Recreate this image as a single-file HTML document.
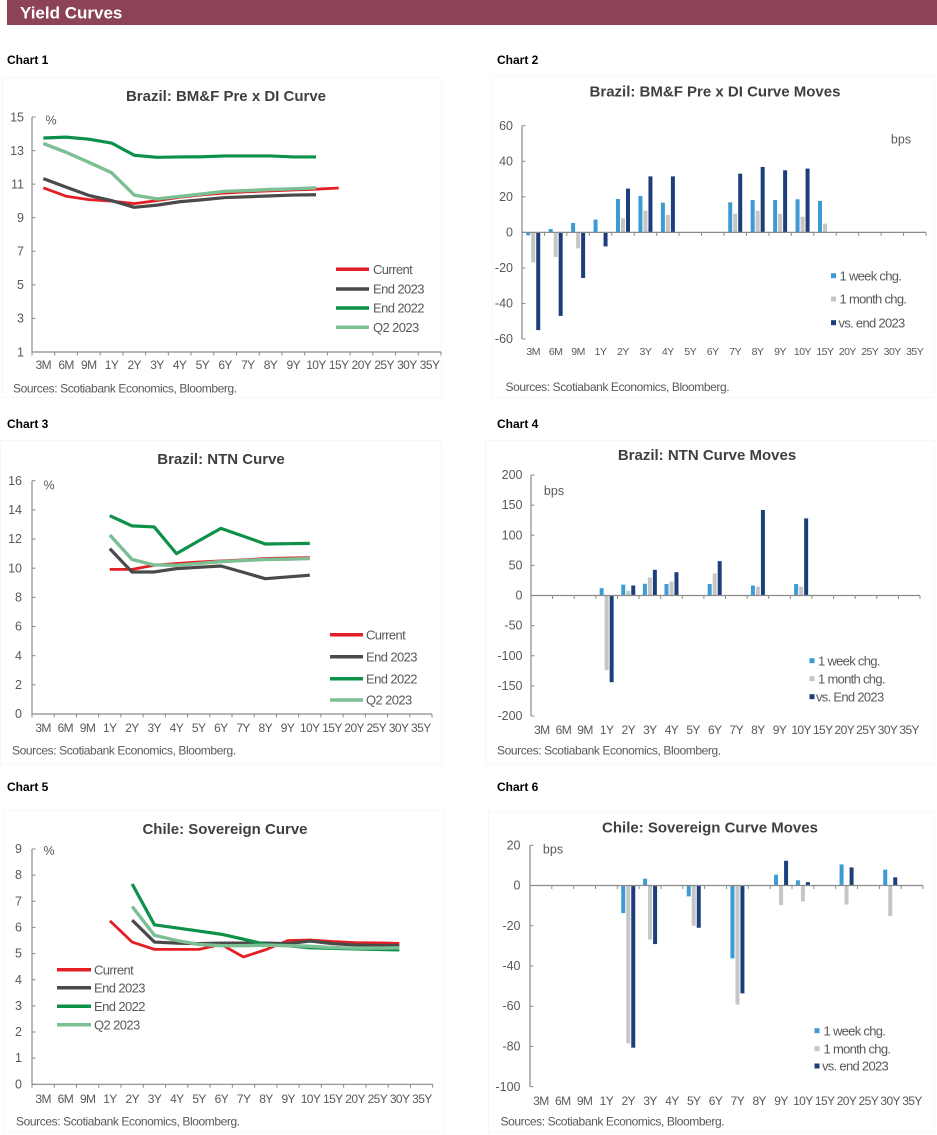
<!DOCTYPE html>
<html><head><meta charset="utf-8">
<style>
html,body{margin:0;padding:0;background:#fff;}
body{width:937px;height:1135px;position:relative;overflow:hidden;font-family:"Liberation Sans",Arial,sans-serif;}
svg{position:absolute;left:0;top:0;}
.xl{position:absolute;display:flex;height:14px;line-height:14px;font-size:12px;letter-spacing:-0.6px;color:#595959;}
.xl span{flex:1;text-align:center;white-space:nowrap;}
.xs{font-size:10.5px;letter-spacing:-0.5px;}
</style></head><body>
<svg id="g" width="937" height="1135" xmlns="http://www.w3.org/2000/svg" font-family="Liberation Sans, Arial, sans-serif">
<!-- panels -->
<rect x="2.5" y="77.5" width="439" height="320" fill="none" stroke="#f7f7f7"/>
<rect x="492.5" y="76.5" width="442" height="321" fill="none" stroke="#f7f7f7"/>
<rect x="0.5" y="440.5" width="441" height="324" fill="none" stroke="#f7f7f7"/>
<rect x="485.5" y="440.5" width="449" height="324" fill="none" stroke="#f7f7f7"/>
<rect x="3.5" y="810.5" width="441" height="322" fill="none" stroke="#f7f7f7"/>
<rect x="488.5" y="811.5" width="446" height="321" fill="none" stroke="#f7f7f7"/>

<!-- header -->
<rect x="7" y="0" width="930" height="25" fill="#8c4358"/>
<text x="20" y="18.5" fill="#ffffff" font-size="17" font-weight="bold">Yield Curves</text>

<!-- chart labels -->
<g font-size="12" font-weight="bold" fill="#000">
<text x="7" y="64">Chart 1</text>
<text x="497" y="64">Chart 2</text>
<text x="7" y="428">Chart 3</text>
<text x="497" y="428">Chart 4</text>
<text x="7" y="791">Chart 5</text>
<text x="497" y="791">Chart 6</text>
</g>

<!-- titles -->
<g font-size="15" font-weight="bold" fill="#404040" text-anchor="middle">
<text x="226" y="101">Brazil: BM&amp;F Pre x DI Curve</text>
<text x="715" y="96.5">Brazil: BM&amp;F Pre x DI Curve Moves</text>
<text x="221" y="464">Brazil: NTN Curve</text>
<text x="707" y="460">Brazil: NTN Curve Moves</text>
<text x="225" y="834">Chile: Sovereign Curve</text>
<text x="710" y="832.5">Chile: Sovereign Curve Moves</text>
</g>

<!-- y labels -->
<g font-size="12.5" fill="#595959" text-anchor="end">
<text x="24" y="121.5">15</text><text x="24" y="155">13</text><text x="24" y="188.5">11</text><text x="24" y="222">9</text><text x="24" y="255.5">7</text><text x="24" y="289">5</text><text x="24" y="322.5">3</text><text x="24" y="356.5">1</text>

<text x="513" y="130">60</text><text x="513" y="165.5">40</text><text x="513" y="201">20</text><text x="513" y="236.5">0</text><text x="513" y="272">-20</text><text x="513" y="307.5">-40</text><text x="513" y="343">-60</text>

<text x="22" y="485">16</text><text x="22" y="514">14</text><text x="22" y="543">12</text><text x="22" y="572.5">10</text><text x="22" y="601.5">8</text><text x="22" y="630.5">6</text><text x="22" y="660">4</text><text x="22" y="689">2</text><text x="22" y="718">0</text>

<text x="522.5" y="479">200</text><text x="522.5" y="509">150</text><text x="522.5" y="539.5">100</text><text x="522.5" y="569.5">50</text><text x="522.5" y="599.5">0</text><text x="522.5" y="629.5">-50</text><text x="522.5" y="660">-100</text><text x="522.5" y="690">-150</text><text x="522.5" y="720">-200</text>

<text x="22" y="853">9</text><text x="22" y="879">8</text><text x="22" y="905.5">7</text><text x="22" y="931.5">6</text><text x="22" y="957.5">5</text><text x="22" y="984">4</text><text x="22" y="1010">3</text><text x="22" y="1036">2</text><text x="22" y="1062">1</text><text x="22" y="1088.5">0</text>

<text x="520.5" y="849.5">20</text><text x="520.5" y="889.5">0</text><text x="520.5" y="930">-20</text><text x="520.5" y="970">-40</text><text x="520.5" y="1010">-60</text><text x="520.5" y="1050.5">-80</text><text x="520.5" y="1091">-100</text>
</g>

<!-- units -->
<g font-size="12.5" fill="#595959" text-anchor="middle">
<text x="51" y="124.5">%</text>
<text x="49" y="489.5">%</text>
<text x="49" y="855">%</text>
<text x="901" y="143.5">bps</text>
<text x="554" y="495">bps</text>
<text x="553" y="853.5">bps</text>
</g>

<!-- sources -->
<g font-size="12" fill="#595959" letter-spacing="-0.4">
<text x="13" y="392.5">Sources: Scotiabank Economics, Bloomberg.</text>
<text x="505.5" y="391">Sources: Scotiabank Economics, Bloomberg.</text>
<text x="12" y="754.5">Sources: Scotiabank Economics, Bloomberg.</text>
<text x="497" y="754.5">Sources: Scotiabank Economics, Bloomberg.</text>
<text x="16" y="1125.5">Sources: Scotiabank Economics, Bloomberg.</text>
<text x="500.5" y="1125.5">Sources: Scotiabank Economics, Bloomberg.</text>
</g>

<!-- line legends -->
<g stroke-width="3.5">
<line x1="336" x2="369" y1="269.3" y2="269.3" stroke="#e31f26"/>
<line x1="336" x2="369" y1="289" y2="289" stroke="#4a4a4a"/>
<line x1="336" x2="369" y1="308" y2="308" stroke="#0d9048"/>
<line x1="336" x2="369" y1="327.3" y2="327.3" stroke="#7dbf94"/>
<line x1="330" x2="363" y1="634.7" y2="634.7" stroke="#e31f26"/>
<line x1="330" x2="363" y1="656.7" y2="656.7" stroke="#4a4a4a"/>
<line x1="330" x2="363" y1="678.7" y2="678.7" stroke="#0d9048"/>
<line x1="330" x2="363" y1="700" y2="700" stroke="#7dbf94"/>
<line x1="57" x2="91" y1="969.7" y2="969.7" stroke="#e31f26"/>
<line x1="57" x2="91" y1="987.7" y2="987.7" stroke="#4a4a4a"/>
<line x1="57" x2="91" y1="1006.3" y2="1006.3" stroke="#0d9048"/>
<line x1="57" x2="91" y1="1024.7" y2="1024.7" stroke="#7dbf94"/>
</g>
<g font-size="13" fill="#595959" letter-spacing="-0.6">
<text x="373" y="274">Current</text>
<text x="373" y="293.5">End 2023</text>
<text x="373" y="312.5">End 2022</text>
<text x="373" y="332">Q2 2023</text>
<text x="366" y="639.5">Current</text>
<text x="366" y="661.5">End 2023</text>
<text x="366" y="683.5">End 2022</text>
<text x="366" y="704.5">Q2 2023</text>
<text x="94" y="974.5">Current</text>
<text x="94" y="992.5">End 2023</text>
<text x="94" y="1011">End 2022</text>
<text x="94" y="1029.5">Q2 2023</text>
</g>

<!-- bar legends -->
<rect x="831" y="273.2" width="5" height="5" fill="#3d9bd3"/>
<rect x="831" y="296.5" width="5" height="5" fill="#c6c6c6"/>
<rect x="831" y="320.2" width="5" height="5" fill="#1c3f7c"/>
<rect x="809.5" y="658.2" width="5" height="5" fill="#3d9bd3"/>
<rect x="809.5" y="676.2" width="5" height="5" fill="#c6c6c6"/>
<rect x="809.5" y="694.2" width="5" height="5" fill="#1c3f7c"/>
<rect x="814.5" y="1028.2" width="5" height="5" fill="#3d9bd3"/>
<rect x="814.5" y="1046.2" width="5" height="5" fill="#c6c6c6"/>
<rect x="814.5" y="1063.5" width="5" height="5" fill="#1c3f7c"/>
<g font-size="13" fill="#595959" letter-spacing="-0.7">
<text x="839.5" y="280.3">1 week chg.</text>
<text x="839.5" y="303.6">1 month chg.</text>
<text x="838.5" y="327.3">vs. end 2023</text>
<text x="818" y="665.3">1 week chg.</text>
<text x="818" y="683.3">1 month chg.</text>
<text x="816" y="701.3">vs. End 2023</text>
<text x="823.5" y="1035.3">1 week chg.</text>
<text x="823.5" y="1053.3">1 month chg.</text>
<text x="822" y="1070.6">vs. end 2023</text>
</g>
</svg>

<!-- x labels -->
<div class="xl" style="left:32px;width:409px;top:358px;"><span>3M</span><span>6M</span><span>9M</span><span>1Y</span><span>2Y</span><span>3Y</span><span>4Y</span><span>5Y</span><span>6Y</span><span>7Y</span><span>8Y</span><span>9Y</span><span>10Y</span><span>15Y</span><span>20Y</span><span>25Y</span><span>30Y</span><span>35Y</span></div>
<div class="xl xs" style="left:522px;width:404px;top:345px;"><span>3M</span><span>6M</span><span>9M</span><span>1Y</span><span>2Y</span><span>3Y</span><span>4Y</span><span>5Y</span><span>6Y</span><span>7Y</span><span>8Y</span><span>9Y</span><span>10Y</span><span>15Y</span><span>20Y</span><span>25Y</span><span>30Y</span><span>35Y</span></div>
<div class="xl" style="left:32px;width:400px;top:721px;"><span>3M</span><span>6M</span><span>9M</span><span>1Y</span><span>2Y</span><span>3Y</span><span>4Y</span><span>5Y</span><span>6Y</span><span>7Y</span><span>8Y</span><span>9Y</span><span>10Y</span><span>15Y</span><span>20Y</span><span>25Y</span><span>30Y</span><span>35Y</span></div>
<div class="xl" style="left:531px;width:389px;top:723px;"><span>3M</span><span>6M</span><span>9M</span><span>1Y</span><span>2Y</span><span>3Y</span><span>4Y</span><span>5Y</span><span>6Y</span><span>7Y</span><span>8Y</span><span>9Y</span><span>10Y</span><span>15Y</span><span>20Y</span><span>25Y</span><span>30Y</span><span>35Y</span></div>
<div class="xl" style="left:32px;width:401px;top:1092px;"><span>3M</span><span>6M</span><span>9M</span><span>1Y</span><span>2Y</span><span>3Y</span><span>4Y</span><span>5Y</span><span>6Y</span><span>7Y</span><span>8Y</span><span>9Y</span><span>10Y</span><span>15Y</span><span>20Y</span><span>25Y</span><span>30Y</span><span>35Y</span></div>
<div class="xl" style="left:530px;width:393px;top:1094px;"><span>3M</span><span>6M</span><span>9M</span><span>1Y</span><span>2Y</span><span>3Y</span><span>4Y</span><span>5Y</span><span>6Y</span><span>7Y</span><span>8Y</span><span>9Y</span><span>10Y</span><span>15Y</span><span>20Y</span><span>25Y</span><span>30Y</span><span>35Y</span></div>

<script>
(function(){
var NS='http://www.w3.org/2000/svg';
var svg=document.getElementById('g');
function el(tag,a){var e=document.createElementNS(NS,tag);for(var k in a)e.setAttribute(k,a[k]);svg.appendChild(e);return e;}
var N=null;
var AX='#8a8a8a';
function chart(c){
  var w=(c.x1-c.x0)/18;
  var Y=function(v){return c.yTop+(c.vMax-v)*(c.yBot-c.yTop)/(c.vMax-c.vMin);};
  var X=function(i){return c.x0+w*(i+0.5);};
  var y0=c.bar?Y(0):c.yBot;
  if(c.bar){
    var cols=['#3d9bd3','#c6c6c6','#1c3f7c'],offs=[-5,0,5];
    for(var s=0;s<3;s++){
      var d=c.bars[s];
      for(var i=0;i<18;i++){
        var v=d[i]; if(v==null) continue;
        var yv=Y(v);
        el('rect',{x:(X(i)+offs[s]-2).toFixed(2),y:Math.min(yv,y0).toFixed(2),width:4,height:Math.abs(yv-y0).toFixed(2),fill:cols[s]});
      }
    }
  }
  el('line',{x1:c.x0,y1:c.yTop,x2:c.x0,y2:c.yBot,stroke:AX,'stroke-width':1.2});
  for(var v=c.vMin;v<=c.vMax+1e-9;v+=c.step){var yy=Y(v);el('line',{x1:c.x0,x2:c.x0+3.5,y1:yy,y2:yy,stroke:AX,'stroke-width':1});}
  el('line',{x1:c.x0,y1:y0,x2:c.x1,y2:y0,stroke:AX,'stroke-width':1.2});
  for(var k=0;k<=18;k++){var x=c.x0+w*k;el('line',{x1:x,x2:x,y1:y0,y2:y0+3.5,stroke:AX,'stroke-width':1});}
  if(!c.bar){
    var lc=['#e31f26','#4a4a4a','#0d9048','#7dbf94'],lw=[2.8,3.2,3.2,3.4];
    for(var s=0;s<4;s++){
      var d=c.lines[s],pts=[];
      for(var i=0;i<18;i++){if(d[i]!=null)pts.push(X(i).toFixed(2)+','+Y(d[i]).toFixed(2));}
      el('polyline',{points:pts.join(' '),fill:'none',stroke:lc[s],'stroke-width':lw[s],'stroke-linejoin':'round','stroke-linecap':'butt'});
    }
  }
}
chart({x0:32,x1:441,yTop:117,yBot:352,vMax:15,vMin:1,step:2,lines:[
 [10.78,10.28,10.08,9.99,9.84,10.02,10.22,10.36,10.47,10.55,10.6,10.65,10.7,10.77,N,N,N,N],
 [11.33,10.82,10.33,10.02,9.62,9.75,9.95,10.07,10.2,10.25,10.3,10.35,10.37,N,N,N,N,N],
 [13.75,13.8,13.68,13.45,12.72,12.6,12.62,12.63,12.68,12.68,12.68,12.62,12.62,N,N,N,N,N],
 [13.42,12.9,12.3,11.68,10.35,10.12,10.27,10.42,10.57,10.62,10.68,10.72,10.78,N,N,N,N,N]
]});
chart({bar:true,x0:522,x1:926,yTop:125.7,yBot:339,vMax:60,vMin:-60,step:20,bars:[
 [-1.7,1.9,5.3,7.2,18.8,20.5,16.7,N,N,16.9,18.2,18.2,18.6,17.7,N,N,N,N],
 [-16.9,-13.9,-9,N,7.9,12.2,9.8,N,N,10.5,12.2,10.5,8.8,4.9,N,N,N,N],
 [-55,-47,-25.7,-7.9,24.6,31.5,31.5,N,N,33,36.8,34.9,35.9,N,N,N,N,N]
]});
chart({x0:32,x1:432,yTop:480.7,yBot:714,vMax:16,vMin:0,step:2,lines:[
 [N,N,N,9.92,9.92,10.2,10.32,10.42,10.5,10.57,10.66,10.7,10.72,N,N,N,N,N],
 [N,N,N,11.34,9.74,9.74,9.97,10.06,10.15,9.72,9.28,9.4,9.52,N,N,N,N,N],
 [N,N,N,13.6,12.9,12.83,11.0,11.87,12.73,12.2,11.66,11.68,11.7,N,N,N,N,N],
 [N,N,N,12.28,10.6,10.22,10.2,10.32,10.45,10.52,10.6,10.62,10.66,N,N,N,N,N]
]});
chart({bar:true,x0:531,x1:920,yTop:475,yBot:716,vMax:200,vMin:-200,step:50,bars:[
 [N,N,N,12.2,18,19.5,19,N,19,N,16.6,N,19,N,N,N,N,N],
 [N,N,N,-124,7.7,29.9,23,N,36.5,N,14.9,N,14.9,N,N,N,N,N],
 [N,N,N,-143.9,16.6,42.6,38.7,N,57,N,142,N,128,N,N,N,N,N]
]});
chart({x0:32,x1:432.7,yTop:849,yBot:1084.3,vMax:9,vMin:0,step:1,lines:[
 [N,N,N,6.25,5.44,5.16,5.16,5.16,5.35,4.87,5.15,5.5,5.52,5.46,5.42,5.41,5.39,N],
 [N,N,N,N,6.28,5.44,5.4,5.38,5.4,5.4,5.4,5.38,5.48,5.38,5.33,5.31,5.31,N],
 [N,N,N,N,7.66,6.1,5.98,5.86,5.74,5.55,5.35,5.3,5.22,5.2,5.18,5.16,5.14,N],
 [N,N,N,N,6.8,5.7,5.5,5.35,5.3,5.3,5.32,5.3,5.28,5.23,5.21,5.21,5.22,N]
]});
chart({bar:true,x0:530,x1:923,yTop:845.3,yBot:1086.7,vMax:20,vMin:-100,step:20,bars:[
 [N,N,N,N,-13.7,3.4,N,-5.4,N,-36.2,N,5.4,2.6,N,10.5,N,7.9,N],
 [N,N,N,N,-78.5,-26.9,N,-20,N,-59.2,N,-9.7,-7.9,N,-9.5,N,-15.2,N],
 [N,N,N,N,-80.6,-29.1,N,-21,N,-53.6,N,12.3,1.7,N,9,N,4.1,N]
]});
})();
</script>
</body></html>
